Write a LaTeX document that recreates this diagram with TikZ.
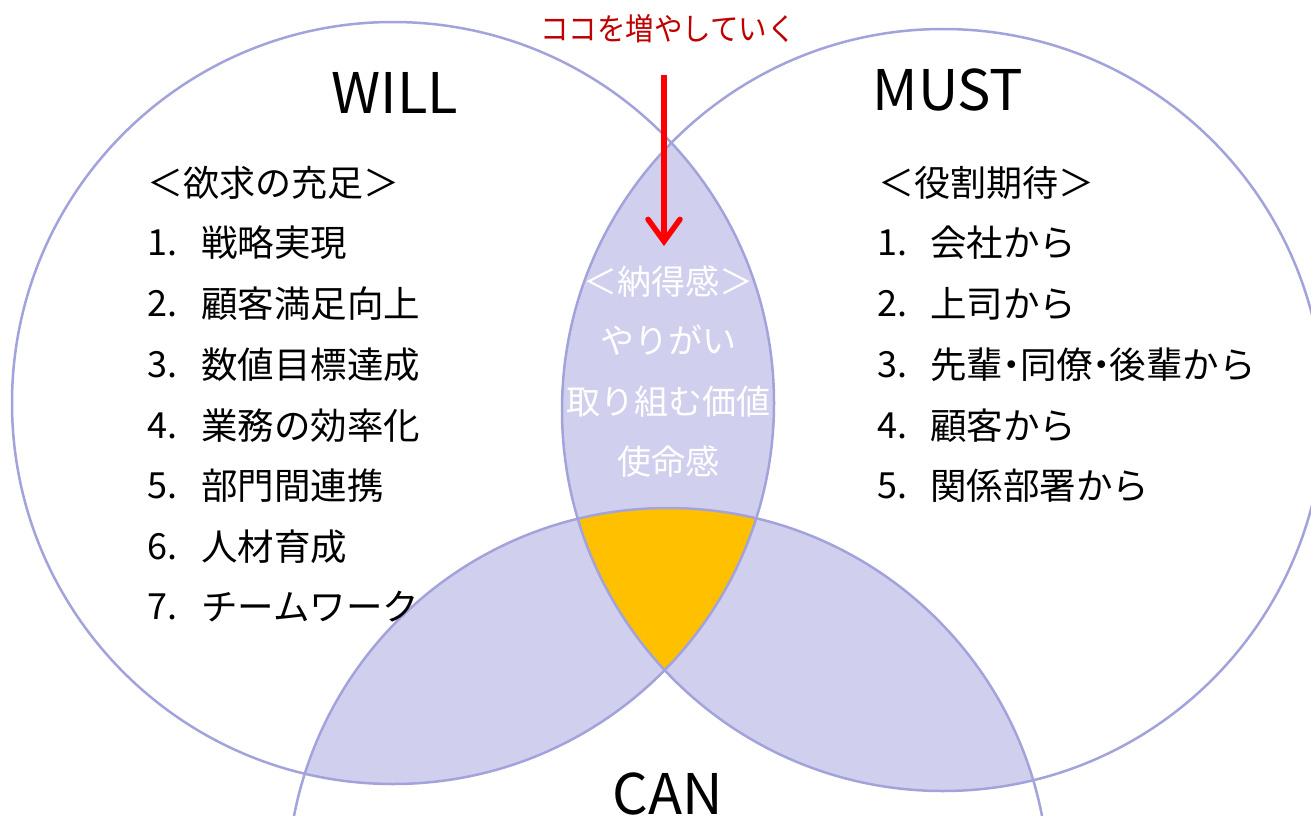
\documentclass[tikz,border=0pt]{standalone}
\usepackage{fontspec}
\setmainfont{Noto Sans CJK JP}
\usetikzlibrary{arrows.meta}
\definecolor{lav}{HTML}{D0D0EE}
\definecolor{lavline}{HTML}{A3A3DC}
\definecolor{gold}{HTML}{FFC000}
\definecolor{darkred}{HTML}{C00000}
\definecolor{brightred}{HTML}{FF0000}
\begin{document}
\begin{tikzpicture}[x=1pt,y=-1pt,
  ring/.style={draw=lavline,line width=2.5pt},
  bigtitle/.style={font=\fontsize{56}{62}\selectfont,inner sep=0pt,text=black},
  headtxt/.style={font=\fontsize{36}{40}\selectfont,inner sep=0pt,text=black},
  numtxt/.style={font=\fontsize{36}{40}\selectfont,inner sep=0pt,anchor=west,text=black},
  itemtxt/.style={font=\fontsize{36.5}{40}\selectfont,inner sep=0pt,anchor=west,text=black},
  lenstxt/.style={font=\fontsize{34}{38}\selectfont,inner sep=0pt,text=white},
  notetxt/.style={font=\fontsize{31}{34}\selectfont,inner sep=0pt,text=darkred},
  redarrow/.style={draw=brightred,line width=5.5pt,-{Straight Barb[length=22pt,width=32pt,line cap=round]}}
]
\useasboundingbox (0,0) rectangle (1311,816);
\clip (0,0) rectangle (1311,816);
\fill[white] (0,0) rectangle (1311,816);
\coordinate (W) at (393,403);
\coordinate (M) at (943,410);
\coordinate (C) at (668,889);
% fills
\begin{scope}
  \clip (W) circle (381pt);
  \fill[lav] (M) circle (381pt);
  \fill[lav] (C) circle (381pt);
\end{scope}
\begin{scope}
  \clip (M) circle (381pt);
  \fill[lav] (C) circle (381pt);
\end{scope}
\begin{scope}
  \clip (W) circle (381pt);
  \clip (M) circle (381pt);
  \fill[gold] (C) circle (381pt);
\end{scope}
% outlines
\draw[ring] (W) circle (381pt);
\draw[ring] (M) circle (381pt);
\draw[ring] (C) circle (381pt);
% titles
\node[bigtitle] (will) at (395,93) {WILL};
\node[bigtitle] (must) at (948,90) {MUST};
\node[bigtitle] (can) at (668,794) {CAN};
% note and arrow
\node[notetxt] (note) at (668,29) {\scalebox{0.92}[1]{ココを増やしていく}};
\coordinate (arrowstart) at (664,75);
\coordinate (arrowtip) at (664,246);
\draw[redarrow] (arrowstart) -- (arrowtip);
% left list
\node[headtxt] (wh) at (273,183) {＜欲求の充足＞};
\node[numtxt] (wn1) at (147,243) {1.};
\node[itemtxt] (wi1) at (201,243) {戦略実現};
\node[numtxt] (wn2) at (147,304) {2.};
\node[itemtxt] (wi2) at (201,304) {顧客満足向上};
\node[numtxt] (wn3) at (147,365) {3.};
\node[itemtxt] (wi3) at (201,365) {数値目標達成};
\node[numtxt] (wn4) at (147,426) {4.};
\node[itemtxt] (wi4) at (201,426) {業務の効率化};
\node[numtxt] (wn5) at (147,486) {5.};
\node[itemtxt] (wi5) at (201,486) {部門間連携};
\node[numtxt] (wn6) at (147,547) {6.};
\node[itemtxt] (wi6) at (201,547) {人材育成};
\node[numtxt] (wn7) at (147,607) {7.};
\node[itemtxt] (wi7) at (201,607) {チームワーク};
% right list
\node[headtxt] (mh) at (986,183) {＜役割期待＞};
\node[numtxt] (mn1) at (877,243) {1.};
\node[itemtxt] (mi1) at (930,243) {会社から};
\node[numtxt] (mn2) at (877,304) {2.};
\node[itemtxt] (mi2) at (930,304) {上司から};
\node[numtxt] (mn3) at (877,365) {3.};
\node[itemtxt] (mi3) at (930,365) {先輩\hspace{-0.27em}・\hspace{-0.27em}同僚\hspace{-0.27em}・\hspace{-0.27em}後輩から};
\node[numtxt] (mn4) at (877,426) {4.};
\node[itemtxt] (mi4) at (930,426) {顧客から};
\node[numtxt] (mn5) at (877,486) {5.};
\node[itemtxt] (mi5) at (930,486) {関係部署から};
% lens text
\node[lenstxt] (l1) at (668,282) {＜納得感＞};
\node[lenstxt] (l2) at (668,340) {やりがい};
\node[lenstxt] (l3) at (668,402) {取り組む価値};
\node[lenstxt] (l4) at (668,462) {使命感};
\end{tikzpicture}
\end{document}
